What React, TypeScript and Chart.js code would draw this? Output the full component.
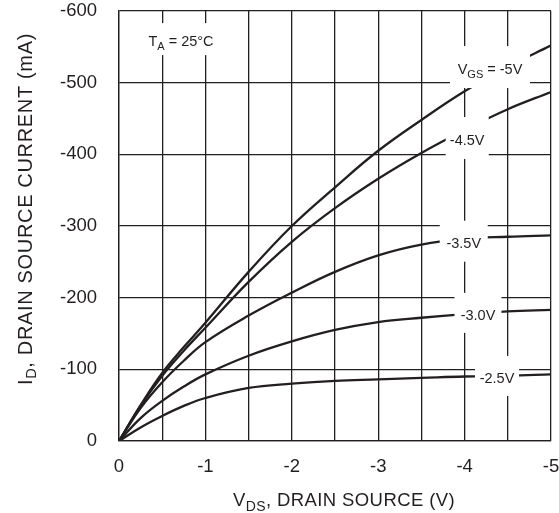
import React, { useEffect, useRef } from 'react';
import { Chart, registerables } from 'chart.js';

Chart.register(...registerables);

// V_DS values (V)
const vds = [0, -0.25, -0.5, -0.75, -1, -1.5, -2, -2.5, -3, -3.5, -4, -4.5, -5];

// I_D values (mA) for each V_GS
const idVgs5p0 = [0, -50, -95, -131, -165, -236, -300, -354, -405, -448, -488, -522, -552];
const idVgs4p5 = [0, -49, -91, -126, -158, -222, -278, -325, -366, -402, -434, -463, -487];
const idVgs3p5 = [0, -46, -82, -112, -138, -175, -207, -236, -259, -274, -282, -285, -287];
const idVgs3p0 = [0, -32, -56, -76, -93, -119, -139, -155, -166, -172, -177, -181, -183];
const idVgs2p5 = [0, -19, -35, -49, -60, -74, -80, -84, -86, -88, -90, -91, -93];

const seriesNames = ['VGS -5V', 'VGS -4.5V', 'VGS -3.5V', 'VGS -3.0V', 'VGS -2.5V'];
const seriesValues = [idVgs5p0, idVgs4p5, idVgs3p5, idVgs3p0, idVgs2p5];

// axis limits / ticks
const xMin = -5;
const xMax = 0;
const xStep = 0.5;
const yMin = -600;
const yMax = 0;
const yStep = 100;

// in-plot annotations: text parts and anchor (V, mA)
type Part = { t: string; sub?: boolean };
const noteTexts: Part[][] = [
  [{ t: 'T' }, { t: 'A', sub: true }, { t: ' = 25°C' }],
  [{ t: 'V' }, { t: 'GS', sub: true }, { t: ' = -5V' }],
  [{ t: '-4.5V' }],
  [{ t: '-3.5V' }],
  [{ t: '-3.0V' }],
  [{ t: '-2.5V' }],
];
const noteAnchorsV = [-0.718, -4.294, -4.03, -3.99, -4.155, -4.375];
const noteAnchorsI = [-558, -519, -420, -276, -176, -88];

const xTitle: Part[] = [{ t: 'V' }, { t: 'DS', sub: true }, { t: ', DRAIN SOURCE (V)' }];
const yTitle: Part[] = [{ t: 'I' }, { t: 'D', sub: true }, { t: ', DRAIN SOURCE CURRENT (mA)' }];

const INK = '#231f20';
const FONT = '"Liberation Sans", Arial, Helvetica, sans-serif';

// box sizes for annotations (px)
const noteBoxW = [72, 80, 43, 48, 47, 44];
const noteBoxH = [32, 42, 42, 41, 40, 40];

function drawRich(
  ctx: CanvasRenderingContext2D,
  parts: Part[],
  cx: number,
  baseline: number,
  size: number,
  subSize: number,
  subDrop: number,
  targetWidth?: number
) {
  const c: any = ctx;
  c.letterSpacing = '0px';
  const measure = () =>
    parts.map((p) => {
      ctx.font = `${p.sub ? subSize : size}px ${FONT}`;
      return ctx.measureText(p.t).width;
    });
  let widths = measure();
  let total = widths.reduce((a, b) => a + b, 0);
  if (targetWidth) {
    const nChars = parts.reduce((a, p) => a + p.t.length, 0);
    const ls = (targetWidth - total) / nChars;
    c.letterSpacing = `${ls}px`;
    widths = measure();
    total = widths.reduce((a, b) => a + b, 0);
  }
  let x = cx - total / 2;
  ctx.textAlign = 'left';
  ctx.textBaseline = 'alphabetic';
  parts.forEach((p, i) => {
    ctx.font = `${p.sub ? subSize : size}px ${FONT}`;
    ctx.fillText(p.t, x, baseline + (p.sub ? subDrop : 0));
    x += widths[i];
  });
  c.letterSpacing = '0px';
  return total;
}

export default function App() {
  const ref = useRef<HTMLCanvasElement>(null);

  useEffect(() => {
    document.body.style.margin = '0';
    const canvas = ref.current;
    if (!canvas) return;

    const notesPlugin = {
      id: 'notes',
      afterDatasetsDraw(chart: any) {
        const { ctx, scales, chartArea } = chart;
        const xs = scales.x;
        const ys = scales.y;
        ctx.save();
        noteTexts.forEach((parts, i) => {
          const px = xs.getPixelForValue(noteAnchorsV[i]);
          const py = ys.getPixelForValue(noteAnchorsI[i]);
          ctx.fillStyle = '#ffffff';
          ctx.fillRect(px - noteBoxW[i] / 2, py - noteBoxH[i] / 2 - 2, noteBoxW[i], noteBoxH[i]);
          ctx.fillStyle = INK;
          drawRich(ctx, parts, px, py + 5.2, 14.5, 11, 3.5);
        });
        ctx.restore();

        // axis titles
        ctx.save();
        ctx.fillStyle = INK;
        const cxArea = (chartArea.left + chartArea.right) / 2;
        drawRich(ctx, xTitle, cxArea + 9, chartArea.bottom + 65, 18.5, 14, 5, 222);
        ctx.translate(31.5, 209);
        ctx.rotate(-Math.PI / 2);
        drawRich(ctx, yTitle, 0, 0, 20, 14.5, 4.5, 352);
        ctx.restore();
      },
    };

    const chart = new Chart(canvas, {
      type: 'line',
      data: {
        datasets: seriesValues.map((vals, k) => ({
          label: seriesNames[k],
          data: vds.map((v, j) => ({ x: v, y: vals[j] })),
          borderColor: INK,
          backgroundColor: INK,
          borderWidth: 2.3,
          pointRadius: 0,
          fill: false,
          tension: 0.4,
        })),
      },
      options: {
        responsive: false,
        maintainAspectRatio: false,
        animation: false,
        devicePixelRatio: 1,
        layout: { padding: { top: 11, right: 8, left: 0, bottom: 0 } },
        plugins: {
          legend: { display: false },
          tooltip: { enabled: false },
          title: { display: false },
        },
        scales: {
          x: {
            type: 'linear',
            reverse: true,
            min: xMin,
            max: xMax,
            ticks: {
              stepSize: xStep,
              autoSkip: false,
              maxRotation: 0,
              padding: 15,
              color: INK,
              font: { size: 18.5, family: FONT },
              callback: (v: any) => {
                const n = Number(v);
                if (Math.abs(n - Math.round(n)) > 1e-6) return '';
                return n === 0 ? '0' : String(Math.round(n));
              },
            },
            grid: { color: INK, lineWidth: 1.3, drawTicks: false },
            border: { color: INK, width: 1.3 },
            afterFit: (s: any) => {
              s.height = 72;
              s.paddingLeft = 0;
              s.paddingRight = 0;
            },
          },
          y: {
            type: 'linear',
            reverse: true,
            min: yMin,
            max: yMax,
            ticks: {
              stepSize: yStep,
              autoSkip: false,
              padding: 22,
              color: INK,
              font: { size: 18.5, family: FONT },
              callback: (v: any) => {
                const n = Number(v);
                return n === 0 ? '0' : String(Math.round(n));
              },
            },
            grid: { color: INK, lineWidth: 1.3, drawTicks: false },
            border: { color: INK, width: 1.3 },
            afterFit: (s: any) => {
              s.width = 119;
              s.paddingTop = 0;
              s.paddingBottom = 0;
            },
          },
        },
      },
      plugins: [notesPlugin],
    });

    return () => chart.destroy();
  }, []);

  return (
    <div style={{ width: 559, height: 513 }}>
      <canvas ref={ref} width={559} height={513} style={{ display: 'block' }} />
    </div>
  );
}
